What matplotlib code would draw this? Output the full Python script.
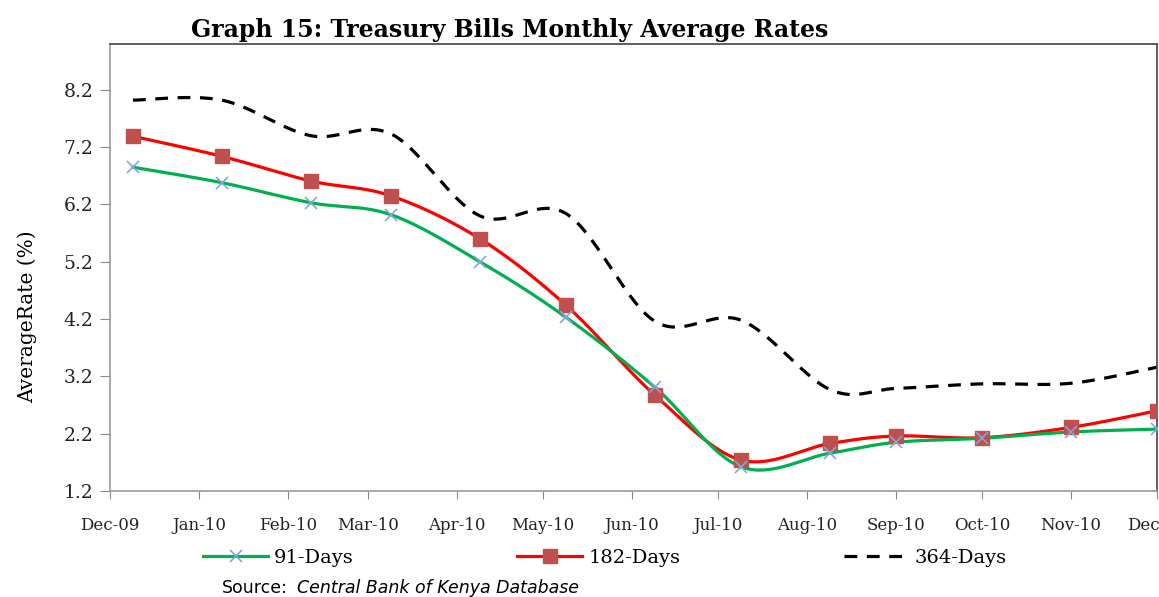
import numpy as np
import pandas as pd
import matplotlib
matplotlib.use("Agg")
from matplotlib import pyplot as plt
import matplotlib.dates as mdates
from matplotlib.lines import Line2D

# -------- data ----------#
dates = pd.to_datetime([
    "2009-12-09", "2010-01-09", "2010-02-09", "2010-03-09", "2010-04-09",
    "2010-05-09", "2010-06-09", "2010-07-09", "2010-08-09", "2010-09-01",
    "2010-10-01", "2010-11-01", "2010-12-01",
])
d91 = [6.85, 6.58, 6.23, 6.02, 5.20, 4.23, 3.01, 1.62, 1.86, 2.05, 2.12, 2.23, 2.28]
d182 = [7.39, 7.04, 6.61, 6.35, 5.60, 4.44, 2.87, 1.74, 2.03, 2.16, 2.13, 2.31, 2.60]
d364 = [8.02, 8.02, 7.40, 7.43, 6.00, 6.04, 4.16, 4.18, 2.97, 2.99, 3.07, 3.08, 3.36]
yticks = [1.2, 2.2, 3.2, 4.2, 5.2, 6.2, 7.2, 8.2]


def smooth(x, y, n=40):
    # excel-like smoothed line: bezier through points, tangents from neighbours
    x = np.asarray(x, float)
    y = np.asarray(y, float)
    px = np.concatenate([[x[0]], x, [x[-1]]])
    py = np.concatenate([[y[0]], y, [y[-1]]])
    t = np.linspace(0, 1, n)
    xs, ys = [], []
    for i in range(1, len(px) - 2):
        p0 = np.array([px[i], py[i]])
        p3 = np.array([px[i + 1], py[i + 1]])
        p1 = p0 + (np.array([px[i + 1], py[i + 1]]) - np.array([px[i - 1], py[i - 1]])) / 6
        p2 = p3 - (np.array([px[i + 2], py[i + 2]]) - np.array([px[i], py[i]])) / 6
        b = ((1 - t) ** 3)[:, None] * p0 + (3 * (1 - t) ** 2 * t)[:, None] * p1 \
            + (3 * (1 - t) * t ** 2)[:, None] * p2 + (t ** 3)[:, None] * p3
        xs.append(b[:, 0])
        ys.append(b[:, 1])
    return np.concatenate(xs), np.concatenate(ys)


serif = ["DejaVu Serif"]

fig = plt.figure(figsize=(11.59, 5.97), dpi=100)
ax = fig.add_axes([110 / 1159, 1 - 491 / 597, 1047 / 1159, 447 / 597])

xn = mdates.date2num(dates)

sx, sy = smooth(xn, d364)
ax.plot(sx, sy, color="black", lw=2.3, dashes=(4, 3), zorder=2)

sx, sy = smooth(xn, d182)
ax.plot(sx, sy, color="#FF0000", lw=2.3, zorder=3)
ax.plot(xn, d182, ls="none", marker="s", ms=10, color="#C0504D", zorder=4)

sx, sy = smooth(xn, d91)
ax.plot(sx, sy, color="#00B050", lw=2.3, zorder=3)
ax.plot(xn, d91, ls="none", marker="x", ms=9, mew=1.2, color="#7FA7D9", zorder=4)

ax.set_xlim(mdates.date2num(pd.Timestamp("2009-12-01")), mdates.date2num(pd.Timestamp("2010-12-01")))
ax.set_ylim(1.2, 9.0)
ax.set_yticks(yticks)
ax.set_yticklabels([f"{v:.1f}" for v in yticks], fontsize=13.5, family=serif, color="#222222")
ax.xaxis.set_major_locator(mdates.MonthLocator())
ax.xaxis.set_major_formatter(mdates.DateFormatter("%b-%y"))
for lab in ax.get_xticklabels():
    lab.set_fontsize(12)
    lab.set_family(serif)
    lab.set_color("#222222")
ax.tick_params(axis="x", length=6, color="#888888", pad=13)
ax.tick_params(axis="y", length=7, color="#888888", pad=5)

for s in ["left", "bottom"]:
    ax.spines[s].set_color("#999999")
for s in ["top", "right"]:
    ax.spines[s].set_color("#444444")
for s in ax.spines.values():
    s.set_linewidth(1.2)

ax.set_ylabel("AverageRate (%)", fontsize=14.5, family=serif)
ax.yaxis.set_label_coords((37 - 110) / 1047, (491 - 317) / 447)

fig.text(510 / 1159, 1 - 30 / 597, "Graph 15: Treasury Bills Monthly Average Rates",
         ha="center", va="center", fontsize=17, fontweight="bold", family=serif)

handles = [
    Line2D([], [], color="#00B050", lw=2.3, marker="x", ms=9, mew=1.2,
           markeredgecolor="#7FA7D9"),
    Line2D([], [], color="#FF0000", lw=2.3, marker="s", ms=10,
           markerfacecolor="#C0504D", markeredgecolor="#C0504D"),
    Line2D([], [], color="black", lw=2.3, dashes=(4, 3)),
]
fig.legend(handles, ["91-Days", "182-Days", "364-Days"], loc="center",
           bbox_to_anchor=(605 / 1159, 1 - 558 / 597), ncol=3, frameon=False,
           handlelength=3.35, handletextpad=0.3, columnspacing=8.4,
           prop={"family": serif, "size": 14})

fig.text(222 / 1159, 1 - 588 / 597, "Source:", ha="left", va="center",
         fontsize=12.5, family="DejaVu Sans")
fig.text(297 / 1159, 1 - 588 / 597, "Central Bank of Kenya Database", ha="left",
         va="center", fontsize=12.5, family="DejaVu Sans", style="italic")

fig.savefig("out.png", dpi=100)
